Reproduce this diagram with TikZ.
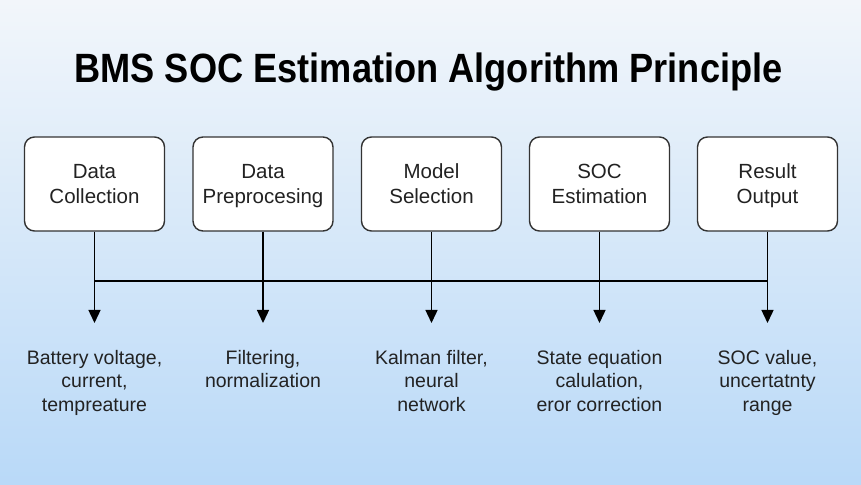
\documentclass[tikz,border=0pt]{standalone}
\usepackage{fontspec}
\setmainfont{Liberation Sans}
\usetikzlibrary{arrows.meta}
\definecolor{bgtop}{HTML}{F2F6FA}
\definecolor{bgbot}{HTML}{B9D9F8}
\definecolor{ink}{HTML}{222222}
\definecolor{boxline}{HTML}{333333}
\newcommand{\nodesc}[1]{\raisebox{0pt}[\height][0pt]{#1}}
\tikzset{
  stepbox/.style={draw=boxline, line width=1.4pt, fill=white, rounded corners=10pt,
    minimum width=140pt, minimum height=94pt, align=center, text=ink,
    font=\fontsize{20.5}{25}\selectfont, inner sep=0pt},
  desc/.style={align=center, text=ink, anchor=north, inner sep=0pt,
    font=\fontsize{19.5}{23.5}\selectfont},
  link/.style={draw=black, line width=1.4pt},
  arr/.style={link, -{Triangle[length=13pt,width=12pt]}}
}
\begin{document}
\begin{tikzpicture}[x=1pt,y=1pt]
\shade[top color=bgtop, bottom color=bgbot] (0,0) rectangle (861,484);
\useasboundingbox (0,0) rectangle (861,484);
\node[anchor=base, font=\fontsize{36.2}{40}\selectfont\bfseries, text=black] (title) at (428.5,401) {\scalebox{1}[1.13]{BMS SOC Estimation Algorithm Principle}};

\node[stepbox] (b1) at (94.5,300) {Data\\Collection};
\node[stepbox] (b2) at (263,300) {Data\\\nodesc{Preprocesing}};
\node[stepbox] (b3) at (431.5,300) {Model\\Selection};
\node[stepbox] (b4) at (599.5,300) {SOC\\Estimation};
\node[stepbox] (b5) at (767.5,300) {Result\\\nodesc{Output}};

\foreach \i/\x in {1/94.5,2/263,3/431.5,4/599.5,5/767.5}{
  \coordinate (h\i) at (\x,203);
  \coordinate (a\i) at (\x,161);
}
\draw[link] (h1) -- (h5);
\foreach \i in {1,...,5}{
  \draw[arr] (b\i.south) -- (a\i);
}

\node[desc] (t1) at (94.5,134) {Battery voltage,\\current,\\tempreature};
\node[desc] (t2) at (263,134) {Filtering,\\normalization};
\node[desc] (t3) at (431.5,134) {Kalman filter,\\neural\\network};
\node[desc] (t4) at (599.5,134) {State equation\\calulation,\\eror correction};
\node[desc] (t5) at (767.5,134) {SOC value,\\uncertatnty\\range};
\end{tikzpicture}
\end{document}
